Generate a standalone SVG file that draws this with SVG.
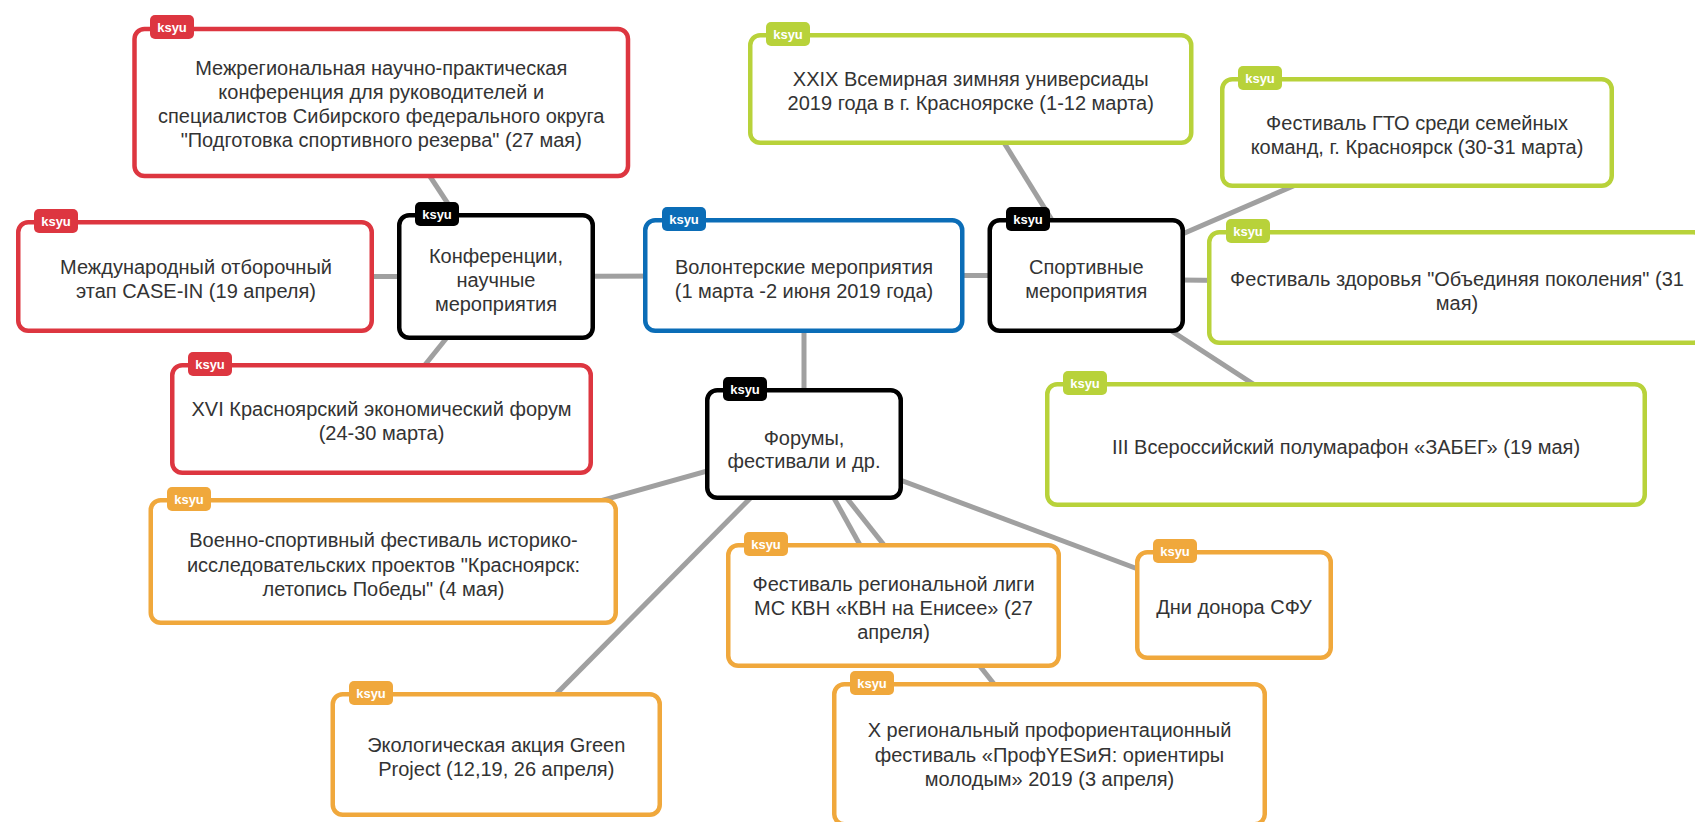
<svg xmlns="http://www.w3.org/2000/svg" width="1695" height="822" viewBox="0 0 1695 822">
<style>
.box{fill:#fff;stroke-width:4.5}
.red{stroke:#dd3640}.green{stroke:#b8d23a}.orange{stroke:#f0a83c}.blue{stroke:#0b6db7}.black{stroke:#000}
.tred{fill:#dd3640}.tgreen{fill:#b8d23a}.torange{fill:#f0a83c}.tblue{fill:#0b6db7}.tblack{fill:#000}
.lbl{font-family:"Liberation Sans",Arial,sans-serif;font-size:20px;fill:#333;text-anchor:middle}
.tag{font-family:"Liberation Sans",Arial,sans-serif;font-size:13px;font-weight:bold;fill:#fff;text-anchor:middle}
.conn line{stroke:#a0a0a0;stroke-width:5}
</style>
<rect width="1695" height="822" fill="#fff"/>
<g id="connectors" class="conn">
<line x1="804" y1="275.5" x2="496" y2="276.5"/>
<line x1="804" y1="275.5" x2="1086.25" y2="275.5"/>
<line x1="804" y1="275.5" x2="804" y2="444"/>
<line x1="496" y1="276.5" x2="381.25" y2="102.5"/>
<line x1="496" y1="276.5" x2="195" y2="276.5"/>
<line x1="496" y1="276.5" x2="381.5" y2="419"/>
<line x1="1086.25" y1="275.5" x2="970.75" y2="89"/>
<line x1="1086.25" y1="275.5" x2="1417" y2="132.5"/>
<line x1="1086.25" y1="279" x2="1456" y2="283"/>
<line x1="1086.25" y1="275.5" x2="1346" y2="444.5"/>
<line x1="804" y1="444" x2="383.5" y2="561.5"/>
<line x1="804" y1="444" x2="496.25" y2="754.5"/>
<line x1="804" y1="444" x2="893.5" y2="605.5"/>
<line x1="804" y1="444" x2="1049.5" y2="754"/>
<line x1="804" y1="444" x2="1234" y2="605"/>
</g>
<g id="n-mezhreg">
<rect class="box red" x="134.5" y="29" width="493.5" height="147" rx="10"/>
<rect class="tred" x="150" y="15" width="44" height="24" rx="5"/>
<text class="tag" x="172" y="31.5">ksyu</text>
<text class="lbl" x="381.25" y="74.5">Межрегиональная научно-практическая</text>
<text class="lbl" x="381.25" y="98.5">конференция для руководителей и</text>
<text class="lbl" x="381.25" y="122.5">специалистов Сибирского федерального округа</text>
<text class="lbl" x="381.25" y="146.5">"Подготовка спортивного резерва" (27 мая)</text>
</g>
<g id="n-mezhdunar">
<rect class="box red" x="18.25" y="222.25" width="353.5" height="108.5" rx="10"/>
<rect class="tred" x="34" y="209" width="44" height="24" rx="5"/>
<text class="tag" x="56" y="225.5">ksyu</text>
<text class="lbl" x="196" y="274">Международный отборочный</text>
<text class="lbl" x="196" y="298">этап CASE-IN (19 апреля)</text>
</g>
<g id="n-konf">
<rect class="box black" x="399.25" y="215.25" width="193.5" height="122.5" rx="10"/>
<rect class="tblack" x="415" y="202" width="44" height="24" rx="5"/>
<text class="tag" x="437" y="218.5">ksyu</text>
<text class="lbl" x="496" y="262.5">Конференции,</text>
<text class="lbl" x="496" y="286.5">научные</text>
<text class="lbl" x="496" y="310.5">мероприятия</text>
</g>
<g id="n-xvi">
<rect class="box red" x="172.25" y="365.25" width="418.5" height="107.5" rx="10"/>
<rect class="tred" x="188" y="352" width="44" height="24" rx="5"/>
<text class="tag" x="210" y="368.5">ksyu</text>
<text class="lbl" x="381.5" y="416">XVI Красноярский экономический форум</text>
<text class="lbl" x="381.5" y="440">(24-30 марта)</text>
</g>
<g id="n-volont">
<rect class="box blue" x="645.25" y="220.25" width="317" height="110.5" rx="10"/>
<rect class="tblue" x="662" y="207" width="44" height="24" rx="5"/>
<text class="tag" x="684" y="223.5">ksyu</text>
<text class="lbl" x="804" y="273.5">Волонтерские мероприятия</text>
<text class="lbl" x="804" y="297.5">(1 марта -2 июня 2019 года)</text>
</g>
<g id="n-sport">
<rect class="box black" x="989.75" y="220.25" width="193" height="110.5" rx="10"/>
<rect class="tblack" x="1006" y="207" width="44" height="24" rx="5"/>
<text class="tag" x="1028" y="223.5">ksyu</text>
<text class="lbl" x="1086.25" y="273.5">Спортивные</text>
<text class="lbl" x="1086.25" y="297.5">мероприятия</text>
</g>
<g id="n-xxix">
<rect class="box green" x="750.25" y="35.25" width="441" height="107.5" rx="10"/>
<rect class="tgreen" x="766" y="22" width="44" height="24" rx="5"/>
<text class="tag" x="788" y="38.5">ksyu</text>
<text class="lbl" x="970.75" y="86">XXIX Всемирная зимняя универсиады</text>
<text class="lbl" x="970.75" y="110">2019 года в г. Красноярске (1-12 марта)</text>
</g>
<g id="n-gto">
<rect class="box green" x="1222.25" y="79.25" width="389.5" height="106.5" rx="10"/>
<rect class="tgreen" x="1238" y="66" width="44" height="24" rx="5"/>
<text class="tag" x="1260" y="82.5">ksyu</text>
<text class="lbl" x="1417" y="129.5">Фестиваль ГТО среди семейных</text>
<text class="lbl" x="1417" y="153.5">команд, г. Красноярск (30-31 марта)</text>
</g>
<g id="n-zdorov">
<rect class="box green" x="1209.25" y="232.25" width="494" height="110.5" rx="10"/>
<rect class="tgreen" x="1226" y="219" width="44" height="24" rx="5"/>
<text class="tag" x="1248" y="235.5">ksyu</text>
<text class="lbl" x="1457" y="286">Фестиваль здоровья "Объединяя поколения" (31</text>
<text class="lbl" x="1457" y="310">мая)</text>
</g>
<g id="n-iii">
<rect class="box green" x="1047.25" y="384.25" width="597.5" height="120.5" rx="10"/>
<rect class="tgreen" x="1063" y="371" width="44" height="24" rx="5"/>
<text class="tag" x="1085" y="387.5">ksyu</text>
<text class="lbl" x="1346" y="453.5">III Всероссийский полумарафон «ЗАБЕГ» (19 мая)</text>
</g>
<g id="n-forum">
<rect class="box black" x="707.25" y="390.25" width="193.5" height="107.5" rx="10"/>
<rect class="tblack" x="723" y="377" width="44" height="24" rx="5"/>
<text class="tag" x="745" y="393.5">ksyu</text>
<text class="lbl" x="804" y="445">Форумы,</text>
<text class="lbl" x="804" y="468">фестивали и др.</text>
</g>
<g id="n-voenno">
<rect class="box orange" x="150.75" y="500.25" width="465" height="122.5" rx="10"/>
<rect class="torange" x="167" y="487" width="44" height="24" rx="5"/>
<text class="tag" x="189" y="503.5">ksyu</text>
<text class="lbl" x="383.5" y="547">Военно-спортивный фестиваль историко-</text>
<text class="lbl" x="383.5" y="571.5">исследовательских проектов "Красноярск:</text>
<text class="lbl" x="383.5" y="596">летопись Победы" (4 мая)</text>
</g>
<g id="n-kvn">
<rect class="box orange" x="728.25" y="545.25" width="330.5" height="120.5" rx="10"/>
<rect class="torange" x="744" y="532" width="44" height="24" rx="5"/>
<text class="tag" x="766" y="548.5">ksyu</text>
<text class="lbl" x="893.5" y="591">Фестиваль региональной лиги</text>
<text class="lbl" x="893.5" y="615">МС КВН «КВН на Енисее» (27</text>
<text class="lbl" x="893.5" y="639">апреля)</text>
</g>
<g id="n-donor">
<rect class="box orange" x="1137.25" y="552.25" width="193.5" height="105.5" rx="10"/>
<rect class="torange" x="1153" y="539" width="44" height="24" rx="5"/>
<text class="tag" x="1175" y="555.5">ksyu</text>
<text class="lbl" x="1234" y="614">Дни донора СФУ</text>
</g>
<g id="n-eco">
<rect class="box orange" x="332.75" y="694.25" width="327" height="120.5" rx="10"/>
<rect class="torange" x="349" y="681" width="44" height="24" rx="5"/>
<text class="tag" x="371" y="697.5">ksyu</text>
<text class="lbl" x="496.25" y="751.5">Экологическая акция Green</text>
<text class="lbl" x="496.25" y="775.5">Project (12,19, 26 апреля)</text>
</g>
<g id="n-x">
<rect class="box orange" x="834.25" y="684.25" width="430.5" height="140" rx="10"/>
<rect class="torange" x="850" y="671" width="44" height="24" rx="5"/>
<text class="tag" x="872" y="687.5">ksyu</text>
<text class="lbl" x="1049.5" y="737">X региональный профориентационный</text>
<text class="lbl" x="1049.5" y="761.5">фестиваль «ПрофYESиЯ: ориентиры</text>
<text class="lbl" x="1049.5" y="786">молодым» 2019 (3 апреля)</text>
</g>
</svg>
